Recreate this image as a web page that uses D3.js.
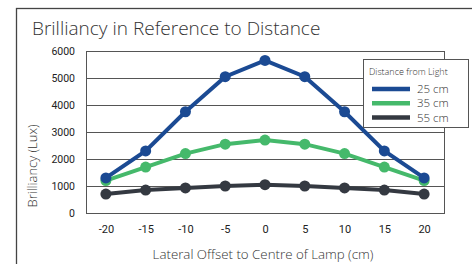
<!DOCTYPE html>
<html>
<head>
<meta charset="utf-8">
<script src="https://cdn.jsdelivr.net/npm/d3@7"></script>
<style>
  body { margin: 0; background: #fff; }
  svg { display: block; font-family: "Open Sans", "Noto Sans", sans-serif; }
</style>
</head>
<body>
<div id="chart"></div>
<script>
// data
const offsets = ["-20", "-15", "-10", "-5", "0", "5", "10", "15", "20"];
const yTicks = [0, 1000, 2000, 3000, 4000, 5000, 6000];
const seriesNames = ["25 cm", "35 cm", "55 cm"];
const colors = ["#1b4a93", "#45b96b", "#343941"];
const lux25 = [1300, 2300, 3750, 5050, 5650, 5050, 3750, 2300, 1300];
const lux35 = [1200, 1700, 2200, 2550, 2700, 2550, 2200, 1700, 1200];
const lux55 = [700, 850, 930, 1000, 1050, 1000, 930, 850, 700];

const series = [lux25, lux35, lux55].map((vals, i) => ({
  name: seriesNames[i],
  color: colors[i],
  values: vals.map((v, j) => ({ x: offsets[j], y: v }))
}));

const W = 472, H = 264;
const margin = { top: 51, right: 28, bottom: 51, left: 86 };
const width = W - margin.left - margin.right;
const height = H - margin.top - margin.bottom;

const svg = d3.select("#chart")
  .append("svg")
  .attr("width", W)
  .attr("height", H);

// outer frame
svg.append("rect")
  .attr("x", 16.5)
  .attr("y", 8.5)
  .attr("width", W)
  .attr("height", H)
  .attr("fill", "none")
  .attr("stroke", "#444")
  .attr("stroke-width", 1.3);

svg.append("text")
  .attr("x", 32)
  .attr("y", 35)
  .attr("font-size", 19)
  .attr("font-weight", 300)
  .attr("fill", "#333")
  .text("Brilliancy in Reference to Distance");

const g = svg.append("g")
  .attr("transform", `translate(${margin.left},${margin.top})`);

const x = d3.scalePoint()
  .domain(offsets)
  .range([0, width])
  .padding(0.5);

const y = d3.scaleLinear()
  .domain([0, 6000])
  .range([height, 0]);

// gridlines
g.append("g")
  .selectAll("line")
  .data(yTicks)
  .enter()
  .append("line")
    .attr("x1", 0)
    .attr("x2", width)
    .attr("y1", d => Math.round(y(d)) + 0.5)
    .attr("y2", d => Math.round(y(d)) + 0.5)
    .attr("stroke", "#555")
    .attr("stroke-width", 1);

// plot border
g.append("rect")
  .attr("x", 0.5)
  .attr("y", 0.5)
  .attr("width", width)
  .attr("height", height)
  .attr("fill", "none")
  .attr("stroke", "#555");

// axes
const yAxis = g.append("g")
  .call(d3.axisLeft(y).tickValues(yTicks).tickFormat(d3.format("d")).tickSize(0).tickPadding(11));
yAxis.select(".domain").remove();
yAxis.selectAll("text")
  .attr("font-family", "Roboto, sans-serif")
  .attr("font-size", 10.5)
  .attr("fill", "#222");

const xAxis = g.append("g")
  .attr("transform", `translate(0,${height})`)
  .call(d3.axisBottom(x).tickSize(0).tickPadding(12));
xAxis.select(".domain").remove();
xAxis.selectAll("text")
  .attr("font-family", "Roboto, sans-serif")
  .attr("font-size", 11)
  .attr("fill", "#222");

// axis titles
svg.append("text")
  .attr("x", margin.left + width / 2 - 2)
  .attr("y", 259)
  .attr("text-anchor", "middle")
  .attr("font-size", 13.3)
  .attr("font-weight", 300)
  .attr("fill", "#333")
  .text("Lateral Offset to Centre of Lamp (cm)");

svg.append("text")
  .attr("transform", "translate(37,166) rotate(-90)")
  .attr("text-anchor", "middle")
  .attr("font-size", 13)
  .attr("font-weight", 300)
  .attr("fill", "#333")
  .text("Brilliancy (Lux)");

// lines and markers, drawn from the bottom series up
const line = d3.line()
  .x(d => x(d.x))
  .y(d => y(d.y));

const layers = g.selectAll(".series")
  .data(series.slice().reverse())
  .enter()
  .append("g")
  .attr("class", "series");

layers.append("path")
  .attr("d", d => line(d.values))
  .attr("fill", "none")
  .attr("stroke", d => d.color)
  .attr("stroke-width", 4);

layers.selectAll("circle")
  .data(d => d.values.map(v => ({ ...v, color: d.color })))
  .enter()
  .append("circle")
    .attr("cx", d => x(d.x))
    .attr("cy", d => y(d.y))
    .attr("r", 5.5)
    .attr("fill", d => d.color);

// legend
const legend = svg.append("g")
  .attr("transform", "translate(363,59)");

legend.append("rect")
  .attr("x", 0.5)
  .attr("y", 0.5)
  .attr("width", 105)
  .attr("height", 68)
  .attr("fill", "#fff")
  .attr("stroke", "#555");

legend.append("text")
  .attr("x", 6)
  .attr("y", 16)
  .attr("font-size", 9)
  .attr("font-weight", 300)
  .attr("fill", "#333")
  .text("Distance from Light");

const items = legend.selectAll(".item")
  .data(series)
  .enter()
  .append("g")
  .attr("class", "item")
  .attr("transform", (d, i) => `translate(0,${30 + i * 14.3})`);

items.append("line")
  .attr("x1", 9)
  .attr("x2", 47)
  .attr("stroke", d => d.color)
  .attr("stroke-width", 4.5);

items.append("text")
  .attr("x", 54)
  .attr("y", 4)
  .attr("font-size", 11.5)
  .attr("font-weight", 300)
  .attr("fill", "#333")
  .text(d => d.name);
</script>
</body>
</html>
